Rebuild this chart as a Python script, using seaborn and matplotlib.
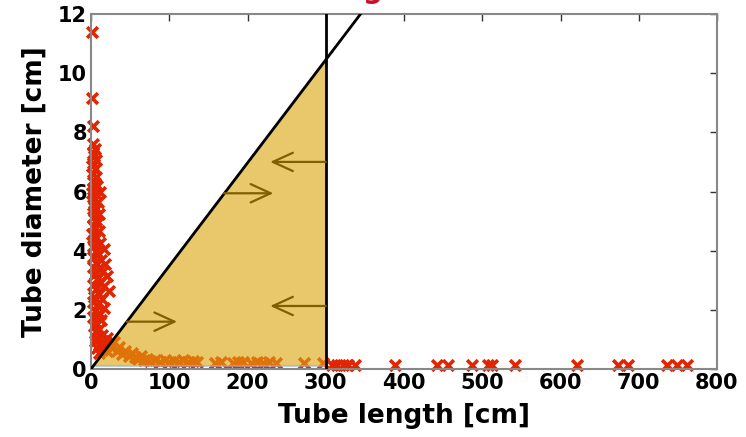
import numpy as np
import matplotlib
matplotlib.use("Agg")
import matplotlib.pyplot as plt
import seaborn as sns

# ── Data ──────────────────────────────────────────────────────────────────────
# left cluster of short, wide tubes
cluster_x = [1, 1.5, 3,
             3, 5, 2, 4, 6, 3, 1, 5, 3, 7, 2, 5, 8, 3, 12, 1, 6, 4, 9, 2, 7, 4,
             10, 2, 6, 8, 3, 5, 10, 1, 7, 4, 11, 2, 16, 6, 9, 3, 13, 6, 18, 2,
             10, 15, 5, 21, 8, 12, 3, 17, 7, 23, 10, 4, 14, 2, 8, 16, 5, 11, 3,
             13, 7, 4, 10, 6, 14, 8, 5, 11, 18, 8, 14, 10, 21]
cluster_y = [11.4, 9.15, 8.2,
             7.6, 7.45, 7.3, 7.2, 7.05, 6.95, 6.85, 6.75, 6.6, 6.5, 6.4, 6.3,
             6.2, 6.1, 6.0, 5.95, 5.9, 5.75, 5.65, 5.55, 5.45, 5.35, 5.25, 5.15,
             5.05, 4.95, 4.85, 4.75, 4.65, 4.55, 4.45, 4.35, 4.25, 4.15, 4.05,
             4.0, 3.9, 3.8, 3.7, 3.6, 3.55, 3.45, 3.4, 3.3, 3.2, 3.15, 3.05,
             2.95, 2.85, 2.8, 2.7, 2.65, 2.55, 2.45, 2.35, 2.25, 2.15, 2.05,
             1.95, 1.85, 1.75, 1.65, 1.55, 1.45, 1.35, 1.25, 1.15, 1.05, 0.95,
             0.85, 0.8, 0.7, 0.65, 0.55, 0.6]

# long, thin tubes along the bottom
trail_x = [15, 20, 24, 27, 30, 33, 36, 40, 44, 48, 52, 56, 60, 64, 68, 72, 76,
           82, 88, 94, 100, 106, 112, 118, 124, 130, 136, 158, 166, 182, 188,
           194, 204, 212, 220, 228, 236, 272, 296,
           308, 314, 322, 328, 337, 388, 442, 456, 487, 507, 512, 542, 621,
           673, 686, 736, 749, 762]
trail_y = [0.95, 1.05, 0.85, 0.7, 0.9, 0.6, 0.75, 0.5, 0.6, 0.45, 0.55, 0.4,
           0.35, 0.45, 0.3, 0.35, 0.28, 0.32, 0.25, 0.3, 0.22, 0.28, 0.25, 0.3,
           0.22, 0.28, 0.25, 0.2, 0.22, 0.2, 0.25, 0.22, 0.2, 0.25, 0.2, 0.22,
           0.2, 0.2, 0.2,
           0.13, 0.14, 0.13, 0.14, 0.13, 0.13, 0.14, 0.13, 0.13, 0.14, 0.13,
           0.13, 0.13, 0.14, 0.13, 0.14, 0.13, 0.13]

# feasible region: length up to MAX_LENGTH, diameter/length below RATIO
MAX_LENGTH = 300
RATIO = 10.45 / 300
FLOOR = 0.11

# arrows pointing into the region
arrow_y  = [1.6, 5.94, 7.0, 2.13]
arrow_x0 = [45.9, 170, 300, 300]
arrow_x1 = [110, 233, 229, 229]

x_ticks = [0, 100, 200, 300, 400, 500, 600, 700, 800]
y_ticks = [0, 2, 4, 6, 8, 10, 12]

RED = "#E32400"
FILL = "#DCA610"
ARROW = "#7F6000"

# ── Plot ──────────────────────────────────────────────────────────────────────
sns.set_theme(style="white")
plt.rcParams["font.family"] = ["DejaVu Sans"]
plt.rcParams["text.color"] = "black"
plt.rcParams["axes.labelcolor"] = "black"
plt.rcParams["xtick.color"] = "black"
plt.rcParams["ytick.color"] = "black"

fig = plt.figure(figsize=(7.46, 4.37), dpi=100)
ax = fig.add_axes([91 / 746, 68 / 437, 626 / 746, 355 / 437])

pts_x = cluster_x + trail_x
pts_y = cluster_y + trail_y
sns.scatterplot(x=pts_x, y=pts_y, marker="x", color=RED, s=60,
                linewidth=2.6, clip_on=False, zorder=2, ax=ax, legend=False)

# translucent region drawn over the markers
poly_x = [FLOOR / RATIO, MAX_LENGTH, MAX_LENGTH]
poly_y = [FLOOR, FLOOR, MAX_LENGTH * RATIO]
ax.fill(poly_x, poly_y, facecolor=FILL, alpha=0.62,
        edgecolor="#9DB3C8", linewidth=1.5, zorder=3)

xs = np.array([0, 400])
ax.plot(xs, xs * RATIO, color="black", lw=2, zorder=4)
ax.plot([MAX_LENGTH, MAX_LENGTH], [0, 12], color="black", lw=2, zorder=4)

for y, x0, x1 in zip(arrow_y, arrow_x0, arrow_x1):
    ax.annotate("", xy=(x1, y), xytext=(x0, y),
                arrowprops=dict(arrowstyle="->,head_length=1.2,head_width=0.55",
                                color=ARROW, lw=1.6, shrinkA=0, shrinkB=0),
                zorder=5)

ax.set_xlim(0, 800)
ax.set_ylim(0, 12)
ax.set_xticks(x_ticks)
ax.set_yticks(y_ticks)
ax.tick_params(direction="in", length=5, width=1, color="#333333",
               labelcolor="black", top=True, right=True, pad=3, labelsize=15)
for lab in ax.get_xticklabels() + ax.get_yticklabels():
    lab.set_fontweight("bold")
for sp in ax.spines.values():
    sp.set_color("#888888")
    sp.set_linewidth(1.5)

ax.set_xlabel("Tube length [cm]", fontsize=19, fontweight="bold",
              labelpad=7, color="black")
ax.set_ylabel("Tube diameter [cm]", fontsize=19, fontweight="bold",
              labelpad=7, color="black")

# title mostly out of frame in the reference
fig.text(372.5 / 746, 1 + 2.5 / 437, "g", ha="center", va="baseline",
         color="#C8102E", fontsize=20, fontweight="bold")

fig.savefig("out.png", dpi=100)
